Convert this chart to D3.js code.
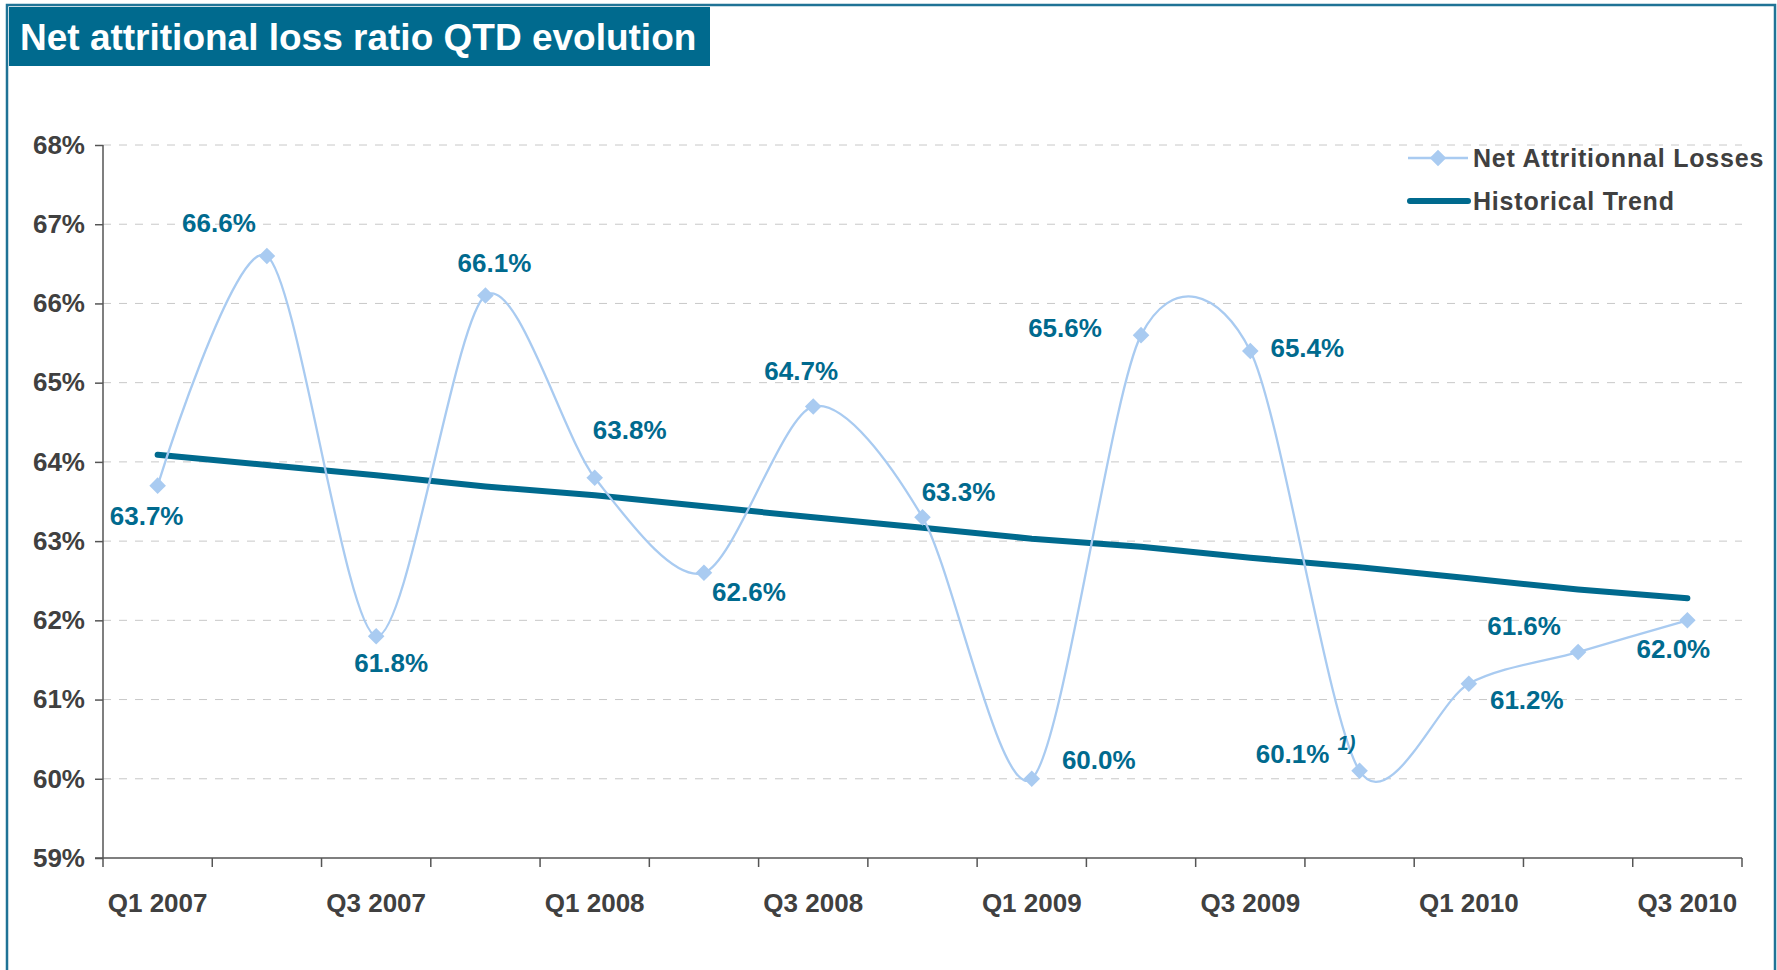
<!DOCTYPE html>
<html>
<head>
<meta charset="utf-8">
<script src="https://d3js.org/d3.v7.min.js"></script>
<style>
  body { margin: 0; background: #fff; }
  text { font-family: "Liberation Sans", Arial, sans-serif; font-weight: bold; }
  .grid line { stroke: #c8c8c8; stroke-dasharray: 8 8; }
  .axis path, .axis line { stroke: #555; stroke-width: 1.5; }
  .axis text { fill: #404040; font-size: 26px; }
</style>
</head>
<body>
<div id="chart"></div>
<script>
// chart data
var quarters = ["Q1 2007", "Q2 2007", "Q3 2007", "Q4 2007",
                "Q1 2008", "Q2 2008", "Q3 2008", "Q4 2008",
                "Q1 2009", "Q2 2009", "Q3 2009", "Q4 2009",
                "Q1 2010", "Q2 2010", "Q3 2010"];
var netLosses = [63.7, 66.6, 61.8, 66.1, 63.8, 62.6, 64.7, 63.3,
                 60.0, 65.6, 65.4, 60.1, 61.2, 61.6, 62.0];
var trend = [64.09, 63.96, 63.83, 63.69, 63.58, 63.44, 63.30, 63.17,
             63.03, 62.93, 62.79, 62.67, 62.53, 62.39, 62.28];
var yTicks = [59, 60, 61, 62, 63, 64, 65, 66, 67, 68];
var xTickLabels = ["Q1 2007", "Q3 2007", "Q1 2008", "Q3 2008",
                   "Q1 2009", "Q3 2009", "Q1 2010", "Q3 2010"];
var seriesNames = ["Net Attritionnal Losses", "Historical Trend"];
// label offsets (px) from each marker
var labelOffsets = [[-11, 30], [-48, -33], [15, 26], [9, -33], [35, -48],
                    [45, 19], [-12, -36], [36, -26], [67, -19], [-76, -7],
                    [57, -3], [-67, -17], [58, 16], [-54, -26], [-14, 28]];

var W = 1777, H = 970;
var teal = "#006a8e", light = "#a9cbf1";
var margin = {top: 145, right: 35, bottom: 112, left: 103};
var width = W - margin.left - margin.right;
var height = H - margin.top - margin.bottom;

var svg = d3.select("#chart").append("svg")
    .attr("width", W).attr("height", H);

// outer frame
svg.append("rect")
    .attr("x", 7).attr("y", 5)
    .attr("width", 1768).attr("height", H + 10)
    .attr("fill", "none").attr("stroke", "#1f7396").attr("stroke-width", 2.5);

// title banner
svg.append("rect")
    .attr("x", 9).attr("y", 7).attr("width", 701).attr("height", 59)
    .attr("fill", teal);
svg.append("text")
    .attr("x", 20).attr("y", 50)
    .attr("fill", "#fff").attr("font-size", "37px")
    .text("Net attritional loss ratio QTD evolution");

var g = svg.append("g")
    .attr("transform", "translate(" + margin.left + "," + margin.top + ")");

var x = d3.scaleBand().domain(quarters).range([0, width]);
var y = d3.scaleLinear().domain([59, 68]).range([height, 0]);
var cx = function(i) { return x(quarters[i]) + x.bandwidth() / 2; };

// gridlines
g.append("g").attr("class", "grid")
  .selectAll("line").data(yTicks.slice(1)).enter().append("line")
    .attr("x1", 0).attr("x2", width)
    .attr("y1", function(d) { return y(d); })
    .attr("y2", function(d) { return y(d); });

// y axis
var yAxis = g.append("g").attr("class", "axis")
    .call(d3.axisLeft(y).tickValues(yTicks).tickSize(8).tickPadding(10)
      .tickFormat(function(d) { return d + "%"; }));
yAxis.select(".domain").attr("d", "M0," + height + "V0");

// x axis: ticks on band edges, labels every other quarter
var xAxis = g.append("g").attr("class", "axis")
    .attr("transform", "translate(0," + height + ")");
xAxis.append("line").attr("x1", -8).attr("x2", width)
    .attr("stroke", "#555").attr("stroke-width", 1.5);
xAxis.selectAll(".edge").data(quarters.concat(["end"])).enter().append("line")
    .attr("class", "edge")
    .attr("x1", function(d, i) { return i * x.bandwidth(); })
    .attr("x2", function(d, i) { return i * x.bandwidth(); })
    .attr("y1", 0).attr("y2", 9);
xAxis.selectAll("text").data(xTickLabels).enter().append("text")
    .attr("x", function(d) { return x(d) + x.bandwidth() / 2; })
    .attr("y", 54)
    .attr("text-anchor", "middle")
    .text(function(d) { return d; });

// historical trend
var trendLine = d3.line()
    .x(function(d, i) { return cx(i); })
    .y(function(d) { return y(d); });
g.append("path").datum(trend)
    .attr("d", trendLine)
    .attr("fill", "none").attr("stroke", teal)
    .attr("stroke-width", 6).attr("stroke-linecap", "round");

// net attritional losses (smoothed)
var lossLine = d3.line()
    .x(function(d, i) { return cx(i); })
    .y(function(d) { return y(d); })
    .curve(d3.curveCardinal.tension(0.15));
g.append("path").datum(netLosses)
    .attr("d", lossLine)
    .attr("fill", "none").attr("stroke", light).attr("stroke-width", 2.3);

var diamond = d3.symbol().type(d3.symbolDiamond2).size(175);
g.selectAll(".marker").data(netLosses).enter().append("path")
    .attr("class", "marker")
    .attr("d", diamond)
    .attr("transform", function(d, i) { return "translate(" + cx(i) + "," + y(d) + ")"; })
    .attr("fill", light);

g.selectAll(".lbl").data(netLosses).enter().append("text")
    .attr("class", "lbl")
    .attr("x", function(d, i) { return cx(i) + labelOffsets[i][0]; })
    .attr("y", function(d, i) { return y(d) + labelOffsets[i][1]; })
    .attr("dy", "0.36em")
    .attr("text-anchor", "middle")
    .attr("fill", teal).attr("font-size", "26px")
    .text(function(d) { return d.toFixed(1) + "%"; });

// footnote mark on Q4 2009
var fn = quarters.indexOf("Q4 2009");
g.append("text")
    .attr("x", cx(fn) - 22).attr("y", y(netLosses[fn]) - 21)
    .attr("fill", teal).attr("font-size", "20px")
    .attr("font-style", "italic").attr("font-weight", "normal")
    .text("1)");

// legend
var lg = svg.append("g").attr("transform", "translate(1408,0)");
lg.append("line").attr("x1", 0).attr("x2", 60).attr("y1", 158).attr("y2", 158)
    .attr("stroke", light).attr("stroke-width", 2.3);
lg.append("path").attr("d", diamond)
    .attr("transform", "translate(30,158)").attr("fill", light);
lg.append("line").attr("x1", 2).attr("x2", 60).attr("y1", 201).attr("y2", 201)
    .attr("stroke", teal).attr("stroke-width", 6).attr("stroke-linecap", "round");
lg.selectAll(".lt").data(seriesNames).enter().append("text")
    .attr("class", "lt")
    .attr("x", 65)
    .attr("y", function(d, i) { return 158 + i * 43; })
    .attr("dy", "0.36em")
    .attr("fill", "#404040").attr("font-size", "25px")
    .attr("letter-spacing", "0.8px")
    .text(function(d) { return d; });
</script>
</body>
</html>
